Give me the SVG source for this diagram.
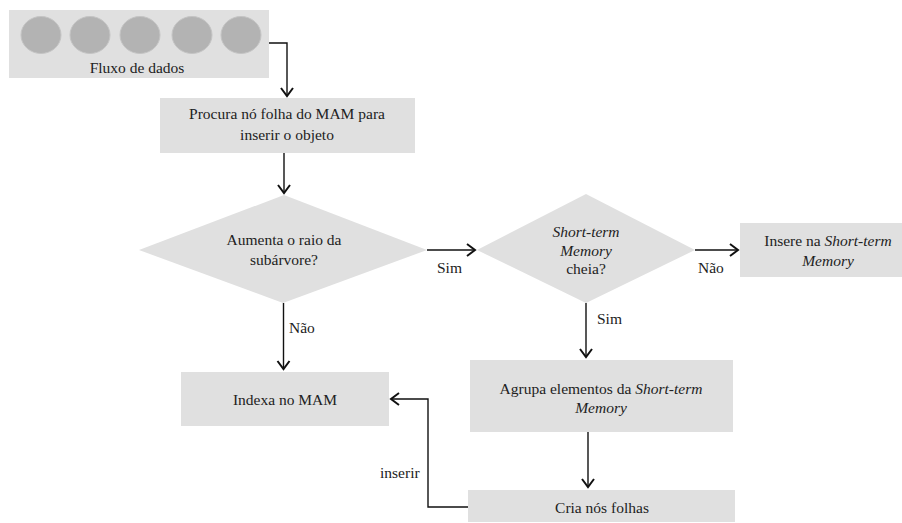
<svg xmlns="http://www.w3.org/2000/svg" width="902" height="523" viewBox="0 0 902 523" font-family="'Liberation Serif', 'Times New Roman', 'DejaVu Serif', serif" font-size="15.5">
<defs>
<style>
.box{fill:#e0e0e0;}
.dot{fill:#b3b3b3;stroke:#c4c4c4;stroke-width:1;}
.t{fill:#222;font-family:'Liberation Serif','Times New Roman',serif;font-size:15.5px;}
.c{text-anchor:middle;}
.it{font-style:italic;}
.edge{fill:none;stroke:#111;stroke-width:1.4;}
</style>
<marker id="arr" markerUnits="userSpaceOnUse" markerWidth="16" markerHeight="16" viewBox="-10 -8 12 16" refX="0" refY="0" orient="auto">
<path d="M-8,-6 L0,0 L-8,6" fill="none" stroke="#111" stroke-width="2"/>
</marker>
</defs>
<rect width="902" height="523" fill="#ffffff"/>

<g id="fluxo">
<rect class="box" x="9" y="10" width="260" height="68"/>
<ellipse class="dot" cx="41" cy="35" rx="20" ry="18.5"/>
<ellipse class="dot" cx="90" cy="35" rx="20" ry="18.5"/>
<ellipse class="dot" cx="140" cy="35" rx="20" ry="18.5"/>
<ellipse class="dot" cx="192" cy="35" rx="20" ry="18.5"/>
<ellipse class="dot" cx="241" cy="35" rx="20" ry="18.5"/>
<text class="t c" x="137" y="73">Fluxo de dados</text>
</g>

<g id="procura">
<rect class="box" x="160" y="98" width="255" height="55"/>
<text class="t c" x="287" y="119">Procura nó folha do MAM para</text>
<text class="t c" x="287" y="140">inserir o objeto</text>
</g>

<g id="aumenta">
<polygon class="box" points="139,250 284,195 427,250 283,303"/>
<text class="t c" x="284" y="245">Aumenta o raio da</text>
<text class="t c" x="284" y="265">subárvore?</text>
</g>

<g id="stm">
<polygon class="box" points="477,250 586,194 695,250 586,303"/>
<text class="t c it" x="586" y="237">Short-term</text>
<text class="t c it" x="586" y="256">Memory</text>
<text class="t c" x="586" y="274">cheia?</text>
</g>

<g id="insere">
<rect class="box" x="740" y="223" width="162" height="54"/>
<text class="t c" x="828" y="246">Insere na <tspan class="it">Short-term</tspan></text>
<text class="t c it" x="828" y="266">Memory</text>
</g>

<g id="indexa">
<rect class="box" x="181" y="372" width="208" height="54"/>
<text class="t c" x="285" y="405">Indexa no MAM</text>
</g>

<g id="agrupa">
<rect class="box" x="470" y="360" width="263" height="72"/>
<text class="t c" x="601" y="394">Agrupa elementos da <tspan class="it">Short-term</tspan></text>
<text class="t c it" x="601" y="413">Memory</text>
</g>

<g id="cria">
<rect class="box" x="468" y="490" width="267" height="32"/>
<text class="t c" x="602" y="513">Cria nós folhas</text>
</g>

<g id="connectors">
<path class="edge" d="M269,43 H287 V96" marker-end="url(#arr)"/>
<path class="edge" d="M284,153 V193" marker-end="url(#arr)"/>
<path class="edge" d="M427,250 H475" marker-end="url(#arr)"/>
<path class="edge" d="M695,250 H738" marker-end="url(#arr)"/>
<path class="edge" d="M283.5,303 V369" marker-end="url(#arr)"/>
<path class="edge" d="M586,303 V357" marker-end="url(#arr)"/>
<path class="edge" d="M588,432 V487" marker-end="url(#arr)"/>
<path class="edge" d="M468,507 H428 V399 H391" marker-end="url(#arr)"/>
<text class="t" x="437" y="273">Sim</text>
<text class="t" x="698" y="273">Não</text>
<text class="t" x="289" y="333">Não</text>
<text class="t" x="597" y="324">Sim</text>
<text class="t" x="380" y="478">inserir</text>
</g>
</svg>
